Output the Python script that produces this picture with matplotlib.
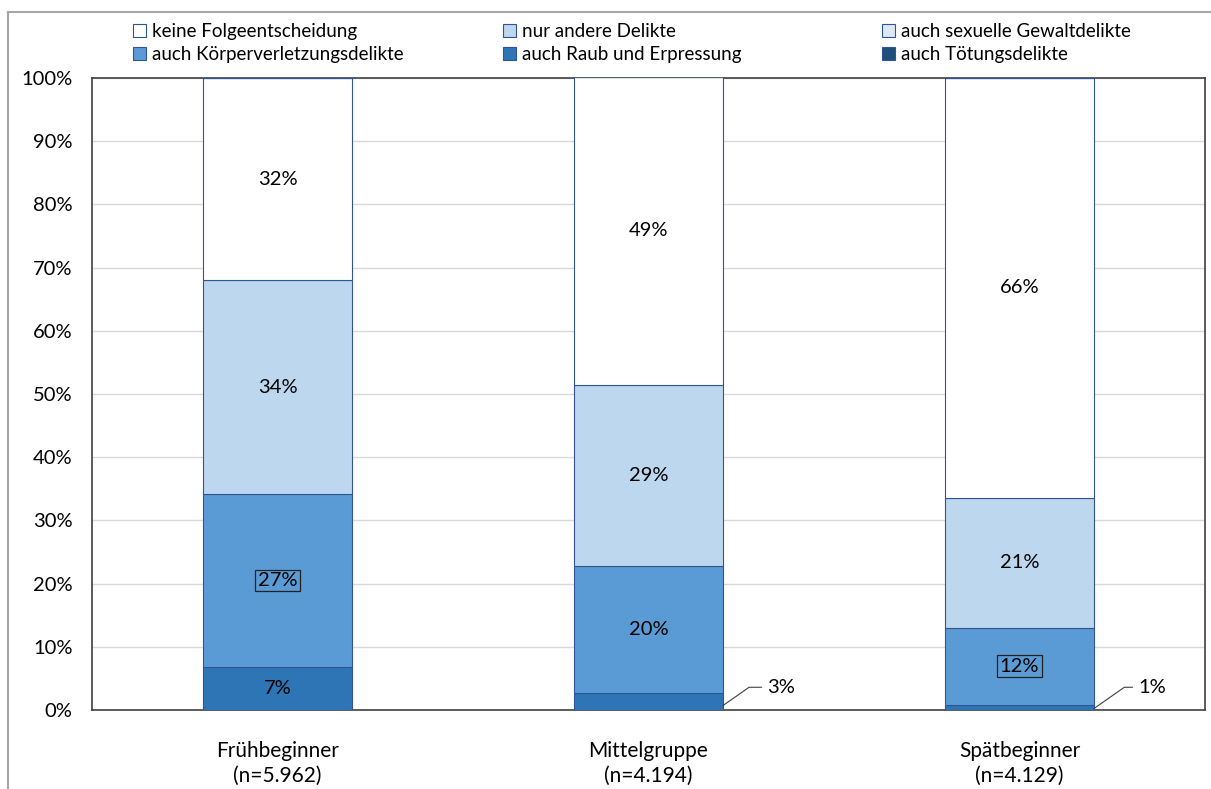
import matplotlib
matplotlib.use("Agg")
import matplotlib.pyplot as plt
from matplotlib.lines import Line2D
import numpy as np

plt.rcParams['font.family'] = ['Lato', 'DejaVu Sans']

gruppen = ["Frühbeginner\n(n=5.962)", "Mittelgruppe\n(n=4.194)", "Spätbeginner\n(n=4.129)"]

# Anteile in % (von unten nach oben gestapelt)
raub = [6.8, 2.7, 0.8]
koerper = [27.4, 20.1, 12.2]
nur_andere = [33.8, 28.7, 20.6]
keine = [32.0, 48.6, 66.4]
sexuelle = [0, 0, 0]
toetung = [0, 0, 0]

serien = [
    ("auch Raub und Erpressung", raub, "#2e75b6"),
    ("auch Körperverletzungsdelikte", koerper, "#5b9bd5"),
    ("nur andere Delikte", nur_andere, "#bdd7ee"),
    ("keine Folgeentscheidung", keine, "#ffffff"),
    ("auch sexuelle Gewaltdelikte", sexuelle, "#dde8f4"),
    ("auch Tötungsdelikte", toetung, "#1f4e79"),
]

fig = plt.figure(figsize=(12.11, 7.89), dpi=100)
ax = fig.add_axes([0.076, 0.1001, 0.919, 0.801])

x = np.arange(len(gruppen))
breite = 0.4
boden = np.zeros(len(gruppen))
handles = {}
for name, werte, farbe in serien:
    werte = np.array(werte, dtype=float)
    b = ax.bar(x, werte, breite, bottom=boden, color=farbe, edgecolor="#2f5597",
               linewidth=0.8, label=name, zorder=3)
    handles[name] = b
    for i, v in enumerate(werte):
        if v <= 0:
            continue
        if v >= 5:
            box = None
            if name == "auch Körperverletzungsdelikte" and i != 1:
                box = dict(boxstyle="square,pad=0.12", fc=farbe, ec="#222222", lw=0.9)
            ax.text(x[i], boden[i] + v / 2, f"{round(v)}%", ha="center", va="center",
                    fontsize=14.5, color="black", bbox=box, zorder=5)
        else:
            ax.annotate(f"{round(v)}%", xy=(x[i] + breite / 2, boden[i] + v * 0.25),
                        xytext=(x[i] + 0.32, 3.6), ha="left", va="center", fontsize=14.5,
                        arrowprops=dict(arrowstyle="-", color="#404040", lw=0.8,
                                        shrinkA=2, shrinkB=0,
                                        connectionstyle="angle,angleA=0,angleB=35,rad=0"),
                        zorder=5)
    boden += werte

ax.set_xlim(-0.5, 2.5)
ax.set_ylim(0, 100)
ax.set_yticks(range(0, 101, 10))
ax.set_yticklabels([f"{t}%" for t in range(0, 101, 10)])
ax.set_xticks(x)
ax.set_xticklabels(gruppen, linespacing=1.3)
ax.tick_params(axis="both", length=0, colors="black")
ax.tick_params(axis="y", pad=14, labelsize=14.5)
ax.tick_params(axis="x", pad=22, labelsize=15)
ax.yaxis.grid(True, color="#d9d9d9", linewidth=1, zorder=0)
ax.set_axisbelow(True)
for s in ax.spines.values():
    s.set_color("#404040")
    s.set_linewidth(1.2)

# Legende: drei Spalten zu je zwei Zeilen
spalten = [
    (133, ["keine Folgeentscheidung", "auch Körperverletzungsdelikte"]),
    (503, ["nur andere Delikte", "auch Raub und Erpressung"]),
    (882, ["auch sexuelle Gewaltdelikte", "auch Tötungsdelikte"]),
]
for xpix, namen in spalten:
    fig.legend([handles[n] for n in namen], namen, loc="upper left",
               bbox_to_anchor=(xpix / 1211, 1 - 23 / 789), frameon=False,
               fontsize=13.5, handlelength=0.7, handleheight=0.7, handletextpad=0.3,
               labelspacing=0.3, borderaxespad=0, borderpad=0)

# Rahmen des Diagrammbereichs
fig.add_artist(Line2D([8 / 1211, 1], [1 - 12 / 789, 1 - 12 / 789], color="#a6a6a6", lw=1.5))
fig.add_artist(Line2D([8 / 1211, 8 / 1211], [0, 1 - 12 / 789], color="#a6a6a6", lw=1.5))

fig.savefig("out.png", dpi=100)
